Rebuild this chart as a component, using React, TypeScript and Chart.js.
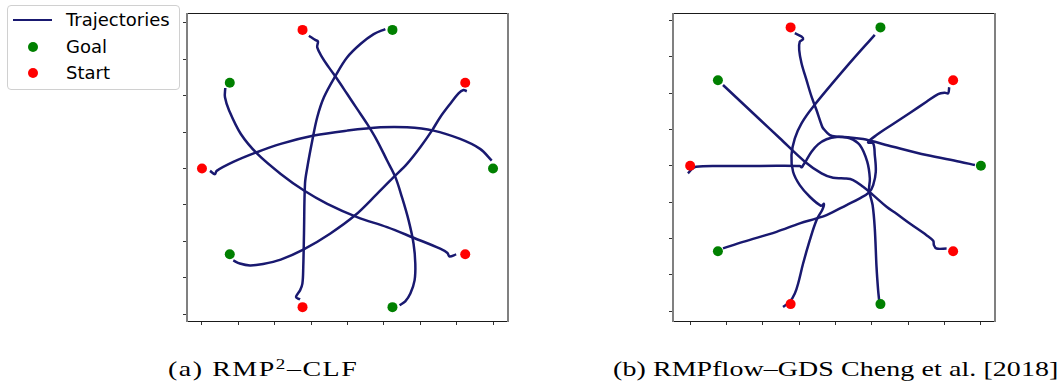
import React, { useEffect, useLayoutEffect, useRef, useState } from "react";
import { Chart, registerables } from "chart.js";

Chart.register(...registerables);

// ---- shared data ----------------------------------------------------------
const tickValues = [-1, -0.75, -0.5, -0.25, 0, 0.25, 0.5, 0.75, 1];

// goal and start positions (same for both planners)
const goalX = [1, 0.309, -0.809, -0.809, 0.309];
const goalY = [0, 0.951, 0.588, -0.588, -0.951];
const startX = [0.809, -0.309, -1, -0.309, 0.809];
const startY = [0.588, 0.951, 0, -0.951, -0.588];

// ---- (a) RMP^2-CLF trajectories -----------------------------------------
const aTopX = [-0.265, -0.219, -0.203, -0.208, -0.174, -0.128, -0.071, -0.002, 0.066, 0.135, 0.203, 0.272, 0.329, 0.374, 0.42, 0.454, 0.466, 0.461, 0.432, 0.397, 0.358];
const aTopY = [0.911, 0.881, 0.872, 0.831, 0.763, 0.694, 0.614, 0.511, 0.409, 0.306, 0.192, 0.055, -0.059, -0.196, -0.356, -0.516, -0.653, -0.767, -0.858, -0.911, -0.938];

const aBottomX = [-0.326, -0.354, -0.326, -0.31, -0.304, -0.299, -0.292, -0.276, -0.242, -0.208, -0.162, -0.082, -0.002, 0.089, 0.18, 0.26];
const aBottomY = [-0.898, -0.882, -0.836, -0.79, -0.676, -0.447, -0.103, 0.009, 0.192, 0.352, 0.489, 0.637, 0.763, 0.854, 0.922, 0.957];

const aUpperRightX = [0.82, 0.797, 0.763, 0.705, 0.637, 0.58, 0.5, 0.409, 0.317, 0.203, 0.052, -0.12, -0.304, -0.459, -0.58, -0.67, -0.74, -0.785];
const aUpperRightY = [0.53, 0.539, 0.516, 0.443, 0.352, 0.26, 0.146, 0.032, -0.059, -0.174, -0.321, -0.447, -0.557, -0.625, -0.655, -0.665, -0.652, -0.63];

const aLowerRightX = [0.747, 0.701, 0.687, 0.637, 0.454, 0.272, 0.066, -0.139, -0.299, -0.459, -0.619, -0.733, -0.813, -0.842, -0.84];
const aLowerRightY = [-0.589, -0.603, -0.58, -0.55, -0.475, -0.402, -0.333, -0.242, -0.151, -0.037, 0.1, 0.237, 0.397, 0.489, 0.553];

const aLeftX = [-0.945, -0.911, -0.899, -0.785, -0.636, -0.459, -0.231, -0.002, 0.226, 0.409, 0.591, 0.774, 0.911, 0.991];
const aLeftY = [-0.016, -0.039, -0.016, 0.045, 0.107, 0.169, 0.226, 0.26, 0.283, 0.283, 0.26, 0.203, 0.135, 0.055];

// ---- (b) RMPflow-GDS trajectories ---------------------------------------
const bTopX = [-0.28, -0.234, -0.223, -0.246, -0.25, -0.234, -0.2, -0.165, -0.131, -0.096, -0.085, -0.039, 0.018, 0.098, 0.167, 0.218, 0.236, 0.231, 0.255, 0.27, 0.282, 0.293, 0.3];
const bTopY = [0.911, 0.888, 0.87, 0.853, 0.796, 0.705, 0.59, 0.475, 0.383, 0.28, 0.257, 0.211, 0.2, 0.189, 0.142, 0.028, -0.087, -0.167, -0.27, -0.43, -0.695, -0.855, -0.924];

const bLeftX = [-1.015, -0.99, -0.96, -0.8, -0.636, -0.406, -0.246, -0.232, -0.222, -0.2, -0.165, -0.12, -0.062, 0.007, 0.098, 0.19, 0.248, 0.396, 0.626, 0.855, 0.959];
const bLeftY = [-0.052, -0.025, -0.007, -0.002, -0.002, 0, -0.002, -0.01, 0.005, 0.039, 0.096, 0.147, 0.182, 0.198, 0.195, 0.184, 0.17, 0.131, 0.074, 0.028, 0.005];

const bUpperRightX = [0.782, 0.775, 0.752, 0.706, 0.626, 0.511, 0.396, 0.282, 0.224, 0.259, 0.27, 0.277, 0.259, 0.231, 0.167, 0.076, -0.062, -0.131, -0.246, -0.406, -0.636, -0.774];
const bUpperRightY = [0.54, 0.498, 0.502, 0.493, 0.44, 0.363, 0.287, 0.211, 0.161, 0.154, 0.074, -0.041, -0.133, -0.183, -0.224, -0.27, -0.339, -0.362, -0.396, -0.454, -0.523, -0.568];

const bLowerRightX = [0.764, 0.695, 0.677, 0.672, 0.626, 0.511, 0.42, 0.351, 0.259, 0.19, 0.121, 0.064, -0.017, -0.096, -0.211, -0.383, -0.521, -0.774];
const bLowerRightY = [-0.569, -0.569, -0.546, -0.516, -0.477, -0.397, -0.33, -0.282, -0.202, -0.145, -0.098, -0.087, -0.083, -0.052, 0.028, 0.189, 0.318, 0.555];

const bBottomX = [-0.361, -0.315, -0.28, -0.257, -0.223, -0.177, -0.131, -0.09, -0.08, -0.1, -0.177, -0.246, -0.292, -0.303, -0.28, -0.234, -0.154, 0.076, 0.27];
const bBottomY = [-0.97, -0.936, -0.878, -0.809, -0.672, -0.511, -0.374, -0.3, -0.262, -0.275, -0.213, -0.133, -0.041, 0.074, 0.189, 0.292, 0.406, 0.681, 0.9];

// ---- styling --------------------------------------------------------------
const LINE_COLOR = "#191970";
const GOAL_COLOR = "#008000";
const START_COLOR = "#ff0000";

type Pt = { x: number; y: number };
const zip = (xs: number[], ys: number[]): Pt[] => xs.map((x, i) => ({ x, y: ys[i] }));

// matplotlib-like box around the axes
const framePlugin = {
  id: "frame",
  afterDatasetsDraw(chart: any) {
    const { ctx, chartArea } = chart;
    const { left, right, top, bottom } = chartArea;
    ctx.save();
    ctx.strokeStyle = "#1a1a1a";
    ctx.lineWidth = 1;
    ctx.beginPath();
    ctx.moveTo(left - 1, top + 0.5);
    ctx.lineTo(right + 1, top + 0.5);
    ctx.moveTo(left - 1, bottom + 0.5);
    ctx.lineTo(right + 1, bottom + 0.5);
    ctx.stroke();
    ctx.strokeStyle = "#808080";
    ctx.lineWidth = 2;
    ctx.beginPath();
    ctx.moveTo(left, top);
    ctx.lineTo(left, bottom + 1);
    ctx.moveTo(right, top);
    ctx.lineTo(right, bottom + 1);
    ctx.stroke();
    ctx.restore();
  },
};

const axis = (min: number, max: number) => ({
  type: "linear" as const,
  min,
  max,
  afterBuildTicks: (scale: any) => {
    scale.ticks = tickValues.map((v) => ({ value: v }));
  },
  ticks: { display: false },
  grid: {
    display: true,
    drawOnChartArea: false,
    drawTicks: true,
    tickLength: 4,
    tickColor: "#333",
    tickWidth: 1,
  },
  border: { display: false },
});

type PanelProps = {
  trajectories: [number[], number[]][];
  xRange: [number, number];
  yRange: [number, number];
  left: number;
  width: number;
  height: number;
  padding: { left: number; right: number; top: number; bottom: number };
};

function Panel({ trajectories, xRange, yRange, left, width, height, padding }: PanelProps) {
  const ref = useRef<HTMLCanvasElement>(null);
  useEffect(() => {
    const chart = new Chart(ref.current as HTMLCanvasElement, {
      type: "scatter",
      data: {
        datasets: [
          {
            label: "Goal",
            data: zip(goalX, goalY),
            backgroundColor: GOAL_COLOR,
            pointRadius: 5,
            pointBorderWidth: 0,
            order: 0,
          },
          {
            label: "Start",
            data: zip(startX, startY),
            backgroundColor: START_COLOR,
            pointRadius: 5,
            pointBorderWidth: 0,
            order: 0,
          },
          ...trajectories.map(([xs, ys]) => ({
            label: "Trajectories",
            data: zip(xs, ys),
            showLine: true,
            borderColor: LINE_COLOR,
            borderWidth: 2.5,
            pointRadius: 0,
            tension: 0.35,
            order: 1,
          })),
        ],
      },
      options: {
        responsive: false,
        animation: false,
        events: [],
        layout: { padding },
        plugins: { legend: { display: false }, tooltip: { enabled: false } },
        scales: { x: axis(xRange[0], xRange[1]), y: axis(yRange[0], yRange[1]) },
      },
      plugins: [framePlugin],
    });
    return () => chart.destroy();
  }, []);
  return (
    <canvas
      ref={ref}
      width={width}
      height={height}
      style={{ position: "absolute", left, top: 0, width, height }}
    />
  );
}

// caption set in a serif face; a stretch plus a little letter spacing fills its column width
const CAPTION_STRETCH = 1.27;

function Caption({ left, width, children }: { left: number; width: number; children: React.ReactNode }) {
  const ref = useRef<HTMLDivElement>(null);
  const [spacing, setSpacing] = useState(0);
  useLayoutEffect(() => {
    const el = ref.current;
    if (!el) return;
    const natural = el.offsetWidth;
    const chars = (el.textContent || "").length;
    setSpacing((width / CAPTION_STRETCH - natural) / chars);
  }, []);
  return (
    <div
      ref={ref}
      style={{
        position: "absolute",
        left,
        top: 358,
        fontFamily: '"Liberation Serif", serif',
        fontSize: 22,
        lineHeight: "22px",
        letterSpacing: spacing,
        whiteSpace: "nowrap",
        color: "#000",
        transform: `scaleX(${CAPTION_STRETCH})`,
        transformOrigin: "left center",
      }}
    >
      {children}
    </div>
  );
}

const legendText: React.CSSProperties = {
  position: "absolute",
  left: 66,
  fontFamily: '"DejaVu Sans", sans-serif',
  fontSize: 18,
  lineHeight: "20px",
  color: "#000",
  whiteSpace: "nowrap",
};

const dot = (color: string, cy: number): React.CSSProperties => ({
  position: "absolute",
  left: 32.7 - 5,
  top: cy - 5,
  width: 10,
  height: 10,
  borderRadius: "50%",
  background: color,
});

export default function App() {
  return (
    <div style={{ position: "absolute", left: 0, top: 0, width: 1063, height: 389, background: "#fff", overflow: "hidden" }}>
      <Panel
        trajectories={[
          [aTopX, aTopY],
          [aBottomX, aBottomY],
          [aUpperRightX, aUpperRightY],
          [aLowerRightX, aLowerRightY],
          [aLeftX, aLeftY],
        ]}
        xRange={[-1.103, 1.103]}
        yRange={[-1.046, 1.067]}
        left={0}
        width={530}
        height={340}
        padding={{ left: 183, right: 22, top: 13, bottom: 15 }}
      />
      <Panel
        trajectories={[
          [bTopX, bTopY],
          [bLeftX, bLeftY],
          [bUpperRightX, bUpperRightY],
          [bLowerRightX, bLowerRightY],
          [bBottomX, bBottomY],
        ]}
        xRange={[-1.118, 1.097]}
        yRange={[-1.067, 1.05]}
        left={530}
        width={533}
        height={340}
        padding={{ left: 139, right: 68, top: 13, bottom: 15 }}
      />

      {/* legend */}
      <div
        style={{
          position: "absolute",
          left: 7,
          top: 5,
          width: 173,
          height: 85,
          boxSizing: "border-box",
          border: "1px solid #d0d0d0",
          borderRadius: 4,
          background: "#fff",
        }}
      />
      <div style={{ position: "absolute", left: 13, top: 18.75, width: 39, height: 2.5, background: LINE_COLOR }} />
      <div style={{ ...legendText, top: 10 }}>Trajectories</div>
      <div style={dot(GOAL_COLOR, 46.7)} />
      <div style={{ ...legendText, top: 37 }}>Goal</div>
      <div style={dot(START_COLOR, 72.7)} />
      <div style={{ ...legendText, top: 63 }}>Start</div>

      <Caption left={167.7} width={190}>
        (a) RMP
        <span style={{ fontSize: 15, position: "relative", top: -7 }}>2</span>–CLF
      </Caption>
      <Caption left={612.7} width={445}>
        (b) RMPflow–GDS Cheng et al. [2018]
      </Caption>
    </div>
  );
}
